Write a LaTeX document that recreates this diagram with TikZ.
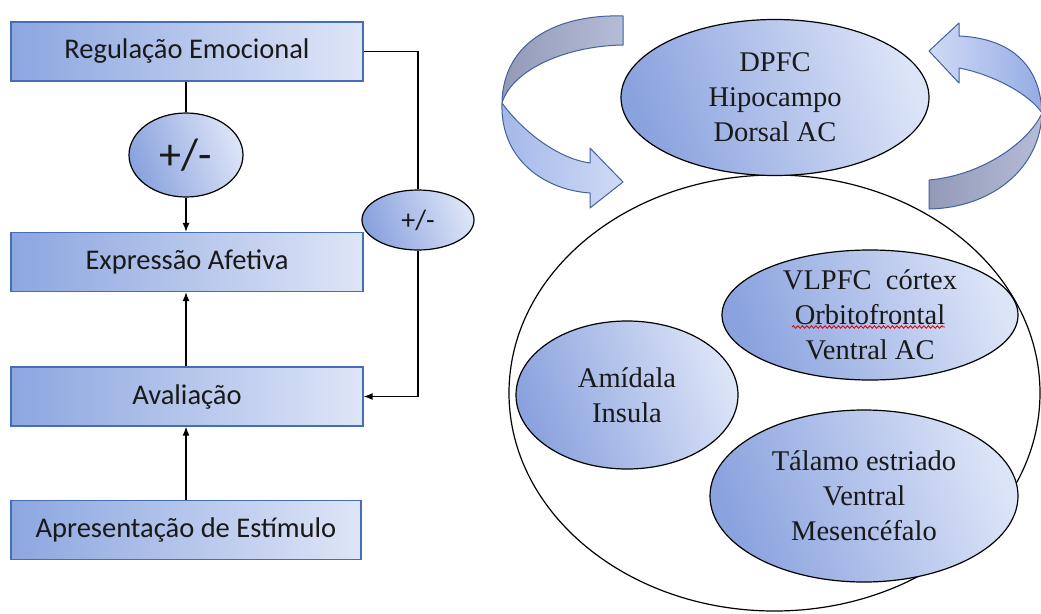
\documentclass[tikz,border=0pt]{standalone}
\usepackage{fontspec}
\setmainfont{Liberation Serif}
\newfontfamily\calib{Carlito}
\usetikzlibrary{shapes.geometric,arrows.meta,decorations.pathmorphing}
\definecolor{boxL}{RGB}{140,166,224}
\definecolor{boxR}{RGB}{222,229,246}
\definecolor{boxB}{RGB}{68,110,186}
\definecolor{ellD}{RGB}{138,162,222}
\definecolor{ellL}{RGB}{220,228,247}
\definecolor{bandB}{RGB}{66,98,158}
\definecolor{bandL}{RGB}{148,172,228}
\definecolor{bandR}{RGB}{208,218,245}
\definecolor{greyL}{RGB}{146,154,184}
\definecolor{greyR}{RGB}{180,188,214}
\definecolor{txt}{RGB}{25,25,25}
\tikzset{
  stepbox/.style={draw=boxB, line width=1.2pt, left color=boxL, right color=boxR,
    minimum width=352pt, minimum height=59pt, inner sep=0pt,
    font=\calib\fontsize{28.5}{34}\selectfont, text=txt},
  pmell/.style={draw=black, ellipse, line width=1.2pt, inner sep=0pt,
    top color=ellL, bottom color=ellD, shading angle=-70, text=txt},
  regell/.style={draw=black, ellipse, line width=1.2pt, inner sep=0pt, align=center,
    top color=ellL, bottom color=ellD, shading angle=-70, text=txt,
    font=\fontsize{28.5}{35}\selectfont},
  conn/.style={draw=black, line width=1.4pt},
  arr/.style={conn, -{Latex[length=9pt,width=7pt]}},
  band/.style={draw=bandB, line width=1pt, line join=round}
}
\begin{document}
\begin{tikzpicture}[x=1pt,y=-1pt]
\useasboundingbox (0,0) rectangle (1041,613);
\fill[white] (0,0) rectangle (1041,613);

% left flow chart
\node[stepbox] (reg) at (187,51.5) {Regulação Emocional};
\node[stepbox] (expr) at (187,262) {Expressão Afetiva};
\node[stepbox] (aval) at (187,396.5) {Avaliação};
\node[stepbox, minimum width=350pt] (apres) at (186,530) {Apresentação de Estímulo};

\node[pmell, minimum width=114pt, minimum height=84pt,
  font=\calib\fontsize{44}{50}\selectfont] (pm1) at (186,155) {+/-};
\node[pmell, minimum width=112pt, minimum height=60pt,
  font=\calib\fontsize{28}{34}\selectfont] (pm2) at (418,220) {+/-};

\draw[conn] (pm1.north |- reg.south) -- (pm1.north);
\draw[arr] (pm1.south) -- (pm1.south |- expr.north);
\draw[arr] (pm1.south |- aval.north) -- (pm1.south |- expr.south);
\draw[arr] (apres.north) -- (apres.north |- aval.south);
\draw[conn] (reg.east) -| (pm2.north);
\draw[arr] (pm2.south) |- (aval.east);

% right side
\node[draw=black, ellipse, line width=1.2pt, minimum width=531pt, minimum height=436pt, inner sep=0pt]
  (big) at (774.5,393) {};
\node[regell, minimum width=308pt, minimum height=156pt] (dpfc) at (775,97.5)
  {DPFC\\Hipocampo\\Dorsal AC};
\node[regell, minimum width=296pt, minimum height=130pt] (vlpfc) at (870,315)
  {VLPFC\ \ córtex\\Orbitofrontal\\Ventral AC};
\node[regell, minimum width=222pt, minimum height=148pt] (amid) at (627,395)
  {Amídala\\Insula};
\node[regell, minimum width=308pt, minimum height=172pt] (tal) at (864,496)
  {Tálamo estriado\\Ventral\\Mesencéfalo};

\draw[red!85!black, line width=0.8pt, decorate,
  decoration={snake, amplitude=1.3pt, segment length=4.5pt}] (792,327) -- (945,327);

% left curved arrow
\path[band, left color=greyL, right color=greyR]
  (623,16) .. controls (560,14) and (503,40) .. (502,103)
  .. controls (512,70) and (565,46) .. (623,45) -- cycle;
\path[band, left color=bandL!75!bandR, right color=bandR]
  (502,103) .. controls (520,128) and (555,158) .. (590,163)
  -- (590,148) -- (623,182) -- (590,208) -- (590,193)
  .. controls (545,190) and (500,160) .. (502,103) -- cycle;

% right curved arrow
\path[band, left color=greyL, right color=greyR]
  (929,209) .. controls (990,208) and (1040,170) .. (1042,113)
  .. controls (1030,140) and (985,175) .. (929,180) -- cycle;
\path[band, left color=bandR, right color=bandL]
  (1042,113) .. controls (1040,60) and (1005,38) .. (959,36)
  -- (959,23) -- (929,51) -- (959,83) -- (959,68)
  .. controls (995,75) and (1030,95) .. (1042,113) -- cycle;
\end{tikzpicture}
\end{document}
